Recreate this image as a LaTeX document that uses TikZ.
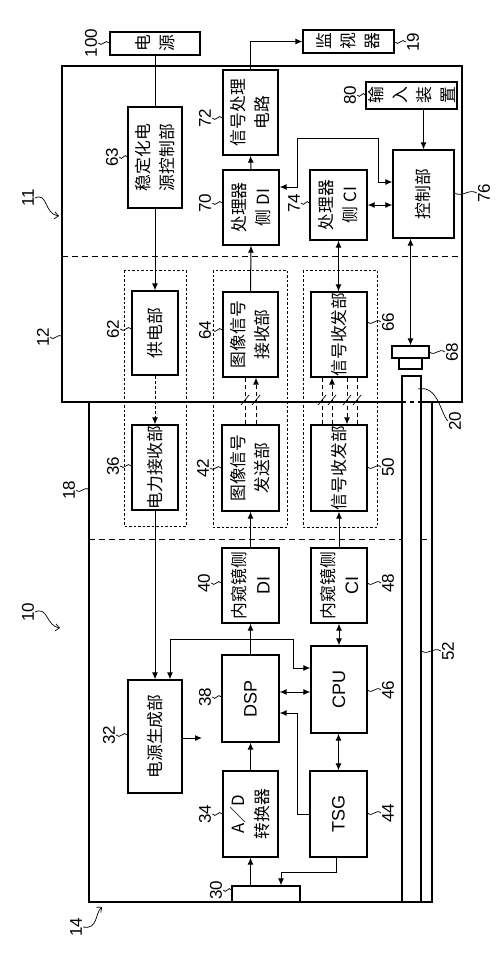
\documentclass[tikz,border=0pt]{standalone}
\usepackage{fontspec}
\setmainfont{Liberation Sans}
\newfontfamily\cjk{Noto Sans CJK SC}
\usetikzlibrary{arrows.meta,calc}
\newcommand\bxt[7]{\node[box,minimum width=#4pt,minimum height=#5pt] (#1) at (#2,#3) {};
  \node[#6] at (#1.center) {#7};}
\newcommand\wigdraw{\draw[lead] (wa) .. controls ($(wa)!0.35!(wb)+(0,5)$) and ($(wa)!0.65!(wb)+(0,-5)$) .. (wb);}
\newcommand\wigL[2]{\path (#1.south) coordinate (wa) (#2.west |- #1.south) coordinate (wb); \wigdraw}
\newcommand\wigR[2]{\path (#2.east |- #1.north) coordinate (wa) (#1.north) coordinate (wb); \wigdraw}
\begin{document}
\begin{tikzpicture}[x=1pt,y=-1pt,
  box/.style={draw,line width=1.3pt,inner sep=0pt},
  txt/.style={rotate=90,align=center,inner sep=0pt,font=\cjk\fontsize{16.8}{24}\selectfont},
  lat/.style={rotate=90,align=center,inner sep=0pt,font=\fontsize{18}{22}\selectfont},
  num/.style={rotate=90,inner sep=1pt,font=\fontsize{17}{17}\selectfont},
  conn/.style={line width=1pt},
  arr/.style={conn,-{Latex[length=7pt,width=6pt]}},
  darr/.style={conn,{Latex[length=7pt,width=6pt]}-{Latex[length=7pt,width=6pt]}},
  lead/.style={line width=0.7pt},
  sep/.style={line width=1pt,dash pattern=on 6pt off 4pt},
  grp/.style={line width=0.7pt,dash pattern=on 2.5pt off 2pt},
  wl/.style={line width=0.9pt,dash pattern=on 4pt off 3pt},
  barb/.style={lead,-{Straight Barb[length=4pt,width=7pt]}}
]
\useasboundingbox (0,0) rectangle (500,963);
% frames
\coordinate (UL) at (62,66);
\coordinate (LL) at (89,902);
\draw[line width=1.3pt] (402,402) -- (62,402) -- (UL) -- (462,66) -- (462,402) -- (421,402);
\draw[line width=1.3pt,dash pattern=on 4pt off 4pt] (402,402) -- (421,402);
\draw[sep] (62,256) -- (462,256);
\draw[line width=1.3pt] (89,402) -- (LL) -- (432,902) -- (432,402);
\node[draw,line width=1.3pt,inner sep=0pt,minimum width=19pt,minimum height=526pt] (r20) at (411.5,639) {};
\draw[sep] (89,539) -- (402,539);
\draw[sep] (421,539) -- (432,539);
\draw[grp] (124,270) rectangle (186,526);
\draw[grp] (213,270) rectangle (287,527);
\draw[grp] (303,270) rectangle (377,527);
% boxes
\bxt{b100}{155}{43.5}{90}{23}{txt}{电\\源}
\bxt{b19}{348.5}{41.5}{91}{23}{txt}{监\\视\\器}
\bxt{b80}{411.5}{95.5}{91}{27}{txt}{输\\入\\装\\置}
\bxt{b63}{155}{157.5}{54}{101}{txt}{稳定化电\\源控制部}
\bxt{b72}{250.5}{112.5}{55}{85}{txt}{信号处理\\电路}
\bxt{b70}{251}{207.5}{56}{75}{txt}{处理器\\侧 DI}
\bxt{b74}{338.5}{205}{57}{70}{txt}{处理器\\侧 CI}
\bxt{b76}{423.5}{194}{61}{88}{txt}{控制部}
\bxt{b62}{155}{333}{46}{84}{txt}{供电部}
\bxt{b64}{250.5}{334.5}{55}{85}{txt}{图像信号\\接收部}
\bxt{b66}{339}{334.5}{56}{85}{txt}{信号收发部}
\node[box,minimum width=37pt,minimum height=12pt] (b68) at (410.5,352) {};
\node[box,minimum width=23pt,minimum height=11pt] (b68s) at (410.5,363.5) {};
\bxt{b36}{155}{467.5}{46}{85}{txt}{电力接收部}
\bxt{b42}{250.5}{468}{57}{86}{txt}{图像信号\\发送部}
\bxt{b50}{339}{468}{56}{86}{txt}{信号收发部}
\bxt{b40}{250.5}{585.5}{57}{75}{txt}{内窥镜侧\\{\rmfamily\fontsize{18}{18}\selectfont DI}}
\bxt{b48}{339}{585.5}{56}{75}{txt}{内窥镜侧\\{\rmfamily\fontsize{18}{18}\selectfont CI}}
\bxt{b38}{250.5}{698.5}{57}{87}{lat}{DSP}
\bxt{b46}{339}{689.5}{56}{87}{lat}{CPU}
\bxt{b32}{155}{736.5}{54}{113}{txt}{电源生成部}
\bxt{b34}{250.5}{814}{55}{86}{txt}{A／D\\转换器}
\bxt{b44}{338.5}{814}{57}{86}{lat}{TSG}
\node[box,minimum width=68pt,minimum height=16pt] (b30) at (266,894) {};
% labels
\node[num] (lab100) at (91,43) {100};
\node[num] (lab19) at (413,42) {19};
\node[num] (lab80) at (350,95) {80};
\node[num] (lab63) at (112,157) {63};
\node[num] (lab72) at (205,118) {72};
\node[num] (lab70) at (205,203) {70};
\node[num] (lab74) at (294,203) {74};
\node[num] (lab76) at (484,193) {76};
\node[num] (lab11) at (28,198) {11};
\node[num] (lab12) at (43,337) {12};
\node[num] (lab62) at (113,329) {62};
\node[num] (lab64) at (205,330) {64};
\node[num] (lab66) at (388,322) {66};
\node[num] (lab68) at (452,352) {68};
\node[num] (lab20) at (455,421) {20};
\node[num] (lab36) at (113,466) {36};
\node[num] (lab42) at (203,468) {42};
\node[num] (lab50) at (388,467) {50};
\node[num] (lab18) at (69,490) {18};
\node[num] (lab10) at (28,612) {10};
\node[num] (lab40) at (204,583) {40};
\node[num] (lab48) at (388,583) {48};
\node[num] (lab38) at (205,697) {38};
\node[num] (lab46) at (388,690) {46};
\node[num] (lab52) at (448,651) {52};
\node[num] (lab32) at (109,735) {32};
\node[num] (lab34) at (205,814) {34};
\node[num] (lab44) at (388,813) {44};
\node[num] (lab30) at (216,890) {30};
\node[num] (lab14) at (76,927) {14};
% leaders
\wigL{lab100}{b100}
\wigL{lab63}{b63}
\wigL{lab72}{b72}
\wigL{lab70}{b70}
\wigL{lab74}{b74}
\wigL{lab80}{b80}
\wigL{lab62}{b62}
\wigL{lab64}{b64}
\wigL{lab36}{b36}
\wigL{lab42}{b42}
\wigL{lab40}{b40}
\wigL{lab38}{b38}
\wigL{lab32}{b32}
\wigL{lab34}{b34}
\wigL{lab30}{b30}
\wigR{lab19}{b19}
\wigR{lab76}{b76}
\wigR{lab66}{b66}
\wigR{lab68}{b68}
\wigR{lab50}{b50}
\wigR{lab48}{b48}
\wigR{lab46}{b46}
\wigR{lab44}{b44}
\wigR{lab52}{r20}
\path (lab12.south) coordinate (wa) (lab12.south -| UL) coordinate (wb); \wigdraw
\path (lab18.south) coordinate (wa) (lab18.south -| LL) coordinate (wb); \wigdraw
\coordinate (p20) at (418,389);
\draw[lead] (p20) .. controls (438,385) and (440,412) .. (lab20.north);
\coordinate (c11) at (59,216);
\coordinate (c10) at (60,628);
\coordinate (c14) at (102,907);
\draw[barb] (lab11.south) .. controls (48,192) and (44,214) .. (c11);
\draw[barb] (lab10.south) .. controls (48,606) and (46,626) .. (c10);
\draw[barb] (lab14.south) .. controls (98,930) and (95,913) .. (c14);
% connectors upper
\draw[conn] (b100.south) -- (b63.north);
\draw[arr] (b63.south) -- (b62.north);
\draw[arr] (b72.north) |- (b19.west);
\draw[arr] (b70.north) -- (b72.south);
\draw[arr] (b64.north) -- (b70.south);
\draw[arr] (b80.south -| b76.north) -- (b76.north);
\draw[darr] (b74.east) -- (b74.east -| b76.west);
\draw[darr] (b70.east |- 0,187) -- (297,187) -- (297,138) -- (378,138) -- (378,182) -- (b76.west |- 0,182);
\draw[darr] (b74.south) -- (b74.south |- b66.north);
\draw[darr] (b68.north |- b76.south) -- (b68.north);
% wireless / contactless links
\draw[arr,dash pattern=on 3pt off 2pt] (b62.south) -- (b36.north);
\draw[wl] (b42.north -| 245,0) -- (b64.south -| 245,0);
\draw[wl,-{Latex[length=7pt,width=6pt]}] (b42.north -| 256,0) -- (b64.south -| 256,0);
\draw[wl] (b50.north -| 322,0) -- (b66.south -| 322,0);
\draw[wl,-{Latex[length=7pt,width=6pt]}] (b50.north -| 332,0) -- (b66.south -| 332,0);
\draw[wl,-{Latex[length=7pt,width=6pt]}] (b66.south -| 347,0) -- (b50.north -| 347,0);
\draw[wl] (b66.south -| 357,0) -- (b50.north -| 357,0);
\draw[lead] (241,405) -- (249,395);
\draw[lead] (252,405) -- (260,395);
\draw[lead] (318,405) -- (326,395);
\draw[lead] (328,405) -- (336,395);
\draw[lead] (343,405) -- (351,395);
\draw[lead] (353,405) -- (361,395);
% connectors lower
\draw[arr] (b36.south) -- (b32.north);
\draw[arr] (b42.south |- b40.north) -- (b42.south);
\draw[arr] (b48.north) -- (b50.south);
\draw[arr] (b38.north) -- (b40.south);
\coordinate (j1) at (b40.south |- 0,639);
\draw[arr] (j1) -| ($(b32.north)+(15,0)$);
\draw[arr] (j1) -- (293,639) |- (b46.west |- 0,668);
\draw[darr] (b38.east |- 0,692) -- (b46.west |- 0,692);
\draw[darr] (b48.south) -- (b46.north);
\draw[arr] (b34.north) -- (b38.south);
\draw[darr] (b44.north) -- (b44.north |- b46.south);
\draw[arr] (b44.west) -- (297,814) |- (b38.east |- 0,713);
\draw[arr] (b30.north -| b34.south) -- (b34.south);
\draw[arr] (b44.south -| 336,0) |- (281,872) -- (b30.north -| 281,0);
\coordinate (pw) at (202,738);
\draw[arr] (b32.east |- pw) -- (pw);
\end{tikzpicture}
\end{document}
